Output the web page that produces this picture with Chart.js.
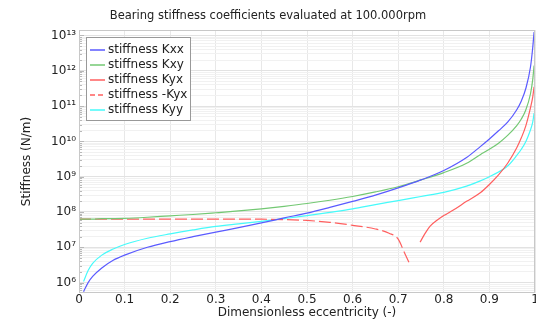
<!DOCTYPE html>
<html>
<head>
<meta charset="utf-8">
<script src="https://cdn.jsdelivr.net/npm/chart.js@4"></script>
<style>
  body { margin: 0; background: #fff; }
  #wrap { width: 536px; height: 321px; }
</style>
</head>
<body>
<div id="wrap"><canvas id="chart" width="536" height="321"></canvas></div>
<script>
// eccentricity grid shared by Kxx, Kxy, Kyy
const eps = [0, 0.01, 0.02, 0.03, 0.05, 0.075, 0.1, 0.15, 0.2, 0.25, 0.3, 0.35, 0.4, 0.45, 0.5, 0.55,
  0.6, 0.65, 0.7, 0.75, 0.8, 0.85, 0.88, 0.9, 0.92, 0.94, 0.96, 0.97, 0.98, 0.99, 0.995, 0.998];

const kxx = [null, 5.5e5, 1.0e6, 1.5e6, 2.6e6, 4.3e6, 6.0e6, 1.0e7, 1.45e7, 2.0e7, 2.7e7, 3.6e7,
  4.9e7, 6.8e7, 9.3e7, 1.35e8, 2.0e8, 3.0e8, 4.8e8, 8.1e8, 1.5e9, 3.5e9, 7.1e9, 1.17e10, 2.0e10,
  3.5e10, 7.9e10, 1.4e11, 3.2e11, 1.26e12, 4.5e12, 1.26e13];

const kxy = [6.3e7, 6.3e7, 6.3e7, 6.3e7, 6.45e7, 6.5e7, 6.6e7, 7.1e7, 7.8e7, 8.5e7, 9.5e7, 1.07e8,
  1.23e8, 1.45e8, 1.74e8, 2.15e8, 2.75e8, 3.7e8, 5.2e8, 8.1e8, 1.3e9, 2.4e9, 4.2e9, 6.0e9, 8.9e9,
  1.48e10, 2.8e10, 4.3e10, 7.9e10, 2.2e11, 5.6e11, 1.4e12];

const kyy = [null, 1.07e6, 2.2e6, 3.5e6, 6.0e6, 8.9e6, 1.2e7, 1.8e7, 2.4e7, 3.1e7, 3.9e7, 4.6e7,
  5.4e7, 6.5e7, 7.9e7, 9.8e7, 1.23e8, 1.62e8, 2.1e8, 2.75e8, 3.6e8, 5.4e8, 7.6e8, 1.0e9, 1.35e9,
  2.0e9, 4.0e9, 6.0e9, 1.0e10, 2.1e10, 3.5e10, 6.3e10];

// Kyx is negative below ~0.73, plotted as -Kyx
const negKyxEps = [0, 0.1, 0.2, 0.3, 0.4, 0.45, 0.5, 0.55, 0.6, 0.65, 0.68, 0.7, 0.713, 0.726];
const negKyx = [6.3e7, 6.3e7, 6.3e7, 6.3e7, 6.25e7, 6.1e7, 5.75e7, 5.1e7, 4.2e7, 3.3e7, 2.5e7,
  1.7e7, 7.4e6, 3.2e6];

const kyxEps = [0.748, 0.76, 0.77, 0.785, 0.8, 0.82, 0.85, 0.88, 0.9, 0.92, 0.94, 0.96, 0.97, 0.98,
  0.99, 0.995, 0.998];
const kyx = [1.4e7, 2.6e7, 4.0e7, 5.8e7, 7.9e7, 1.12e8, 2.0e8, 3.5e8, 6.0e8, 1.12e9, 2.4e9, 6.6e9,
  1.26e10, 2.8e10, 8.9e10, 1.8e11, 3.5e11];

const xTicks = [0, 0.1, 0.2, 0.3, 0.4, 0.5, 0.6, 0.7, 0.8, 0.9, 1];
const yDecades = [5, 6, 7, 8, 9, 10, 11, 12, 13];

const pts = (xs, ys) => xs.map((x, i) => ({x: x, y: ys[i]})).filter(p => p.y != null);

const sup = {'0':'⁰','1':'¹','2':'²','3':'³','4':'⁴','5':'⁵','6':'⁶','7':'⁷','8':'⁸','9':'⁹'};
const isDecade = v => Math.abs(Math.log10(v) - Math.round(Math.log10(v))) < 1e-9;

const font = '"DejaVu Sans", sans-serif';

const extras = {
  id: 'extras',
  afterDraw(chart) {
    const {ctx, chartArea: a} = chart;
    ctx.save();
    // small ticks on the left axis
    ctx.strokeStyle = '#b8b8b8';
    ctx.lineWidth = 1;
    chart.scales.y.ticks.forEach(t => {
      const y = Math.round(chart.scales.y.getPixelForValue(t.value)) + 0.5;
      ctx.beginPath();
      ctx.moveTo(a.left, y);
      ctx.lineTo(a.left + (isDecade(t.value) ? 5 : 3), y);
      ctx.stroke();
    });
    // frame
    ctx.strokeStyle = '#c8c8c8';
    ctx.strokeRect(a.left + 0.5, a.top + 0.5, a.width - 1, a.height - 1);
    // legend box inside the plot
    const lx = a.left + 7, ly = a.top + 7, w = 104, h = 83;
    ctx.fillStyle = '#fff';
    ctx.fillRect(lx, ly, w, h);
    ctx.strokeStyle = '#999';
    ctx.strokeRect(lx + 0.5, ly + 0.5, w, h);
    ctx.font = '12px ' + font;
    ctx.textBaseline = 'middle';
    chart.data.datasets.forEach((ds, i) => {
      const y = ly + 13 + i * 15;
      ctx.strokeStyle = ds.borderColor;
      ctx.lineWidth = 1.5;
      ctx.setLineDash(ds.borderDash ? [5, 3] : []);
      ctx.beginPath();
      ctx.moveTo(lx + 4, y);
      ctx.lineTo(lx + 19, y);
      ctx.stroke();
      ctx.setLineDash([]);
      ctx.fillStyle = '#222';
      ctx.fillText(ds.label, lx + 22, y);
    });
    ctx.restore();
  }
};

const line = (label, data, color, dash) => ({
  label: label,
  data: data,
  borderColor: color,
  borderWidth: 1.2,
  borderDash: dash,
  pointRadius: 0,
  fill: false,
  cubicInterpolationMode: 'monotone'
});

new Chart(document.getElementById('chart'), {
  type: 'line',
  data: {
    datasets: [
      line('stiffness Kxx', pts(eps, kxx), 'rgb(90,90,255)'),
      line('stiffness Kxy', pts(eps, kxy), 'rgb(115,200,115)'),
      line('stiffness Kyx', pts(kyxEps, kyx), 'rgb(255,95,95)'),
      line('stiffness -Kyx', pts(negKyxEps, negKyx), 'rgb(255,95,95)', [12, 4]),
      line('stiffness Kyy', pts(eps, kyy), 'rgb(70,250,250)')
    ]
  },
  plugins: [extras],
  options: {
    responsive: false,
    animation: false,
    layout: { padding: 0 },
    plugins: {
      legend: { display: false },
      tooltip: { enabled: false },
      title: {
        display: true,
        text: 'Bearing stiffness coefficients evaluated at 100.000rpm',
        color: '#222',
        font: { family: font, size: 11.5, weight: 'normal' },
        padding: { top: 9, bottom: 7.2 }
      }
    },
    scales: {
      x: {
        type: 'linear',
        min: 0,
        max: 1,
        afterBuildTicks: s => { s.ticks = xTicks.map(v => ({value: v})); },
        afterFit: s => { s.height = 28; s.paddingLeft = 0; s.paddingRight = 1; },
        ticks: {
          color: '#222',
          padding: 0,
          maxRotation: 0,
          autoSkip: false,
          font: { family: font, size: 12 },
          callback: v => String(+v.toFixed(1))
        },
        grid: { color: '#e8e8e8', drawTicks: false },
        border: { display: false },
        title: {
          display: true,
          text: 'Dimensionless eccentricity (-)',
          color: '#222',
          font: { family: font, size: 12 },
          padding: { top: 0, bottom: 1 }
        }
      },
      y: {
        type: 'logarithmic',
        min: 5.07e5,
        max: 1.43e13,
        afterBuildTicks: s => {
          const t = [];
          yDecades.forEach(d => {
            for (let m = 1; m <= 9; m++) {
              const v = m * Math.pow(10, d);
              if (v >= s.min && v <= s.max) t.push({value: v});
            }
          });
          s.ticks = t;
        },
        afterFit: s => { s.width = 79; },
        ticks: {
          color: '#222',
          padding: 3,
          autoSkip: false,
          font: { family: font, size: 12 },
          callback: v => {
            if (!isDecade(v)) return '';
            const e = String(Math.round(Math.log10(v)));
            return '10' + e.split('').map(c => sup[c]).join('');
          }
        },
        grid: {
          drawTicks: false,
          color: c => isDecade(c.tick.value) ? '#e2e2e2' : '#f1f1f1'
        },
        border: { display: false },
        title: {
          display: true,
          text: 'Stiffness (N/m)',
          color: '#222',
          font: { family: font, size: 12 },
          padding: { top: 20, bottom: 0 }
        }
      }
    }
  }
});
</script>
</body>
</html>
